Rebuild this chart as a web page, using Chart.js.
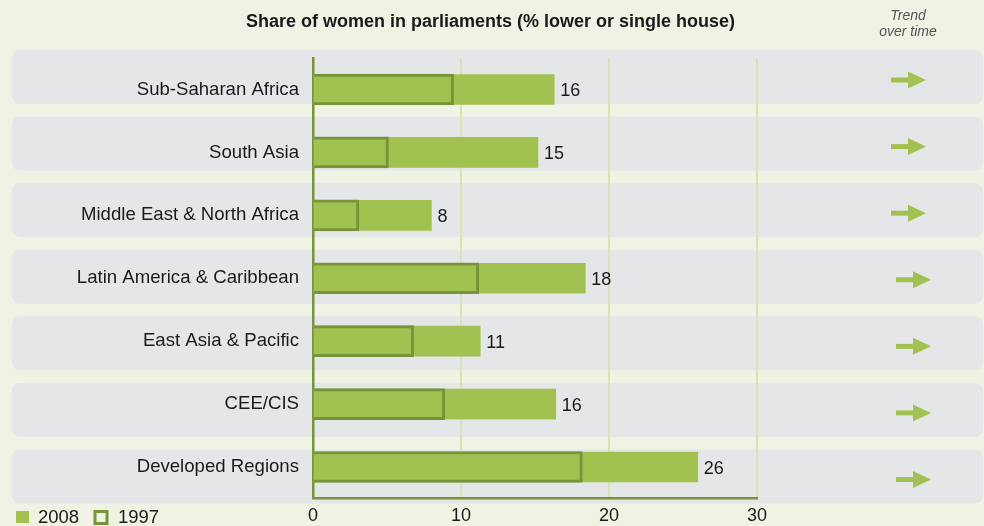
<!DOCTYPE html>
<html>
<head>
<meta charset="utf-8">
<script src="https://cdn.jsdelivr.net/npm/chart.js@4/dist/chart.umd.min.js"></script>
<style>
  html, body { margin: 0; padding: 0; background: #eff3e4; }
  #wrap { width: 984px; height: 526px; }
</style>
</head>
<body>
<div id="wrap"><canvas id="c" width="984" height="526"></canvas></div>
<script>
// ---- Data ----
const categories = [
  'Sub-Saharan Africa',
  'South Asia',
  'Middle East & North Africa',
  'Latin America & Caribbean',
  'East Asia & Pacific',
  'CEE/CIS',
  'Developed Regions'
];
const values2008 = [16.3, 15.2, 8.0, 18.4, 11.3, 16.4, 26.0];
const labels2008 = ['16', '15', '8', '18', '11', '16', '26'];
const values1997 = [9.5, 5.1, 3.1, 11.2, 6.8, 8.9, 18.2];
const xTicks = [0, 10, 20, 30];
const trend = ['right', 'right', 'right', 'right', 'right', 'right', 'right'];
const seriesNames = ['2008', '1997'];
const titleText = 'Share of women in parliaments (% lower or single house)';
const trendHeader = ['Trend', 'over time'];

// ---- Styles ----
const BG = '#eff3e4';
const BAND = '#e5e6e8';
const GREEN = '#a2c150';
const DARK = '#77943b';
const GRID = '#d7e5b3';
const TEXT = '#1a1a1a';
const FONT = '"Liberation Sans", Arial, Helvetica, sans-serif';

const decor = {
  id: 'decor',
  beforeDraw(chart) {
    const { ctx, chartArea } = chart;
    ctx.save();
    ctx.fillStyle = BG;
    ctx.fillRect(0, 0, chart.width, chart.height);
    // row bands
    const n = categories.length;
    const top = chartArea.top - 8;
    const bottom = chartArea.bottom + 5;
    const h = 54;
    const pitch = (bottom - top - h) / (n - 1);
    ctx.fillStyle = BAND;
    for (let i = 0; i < n; i++) {
      const y = top + i * pitch;
      ctx.beginPath();
      ctx.roundRect(12, y, chart.width - 13, h, 8);
      ctx.fill();
    }
    ctx.restore();
  },
  afterDraw(chart) {
    const { ctx, chartArea } = chart;
    const n = categories.length;
    ctx.save();
    // title
    ctx.fillStyle = TEXT;
    ctx.font = 'bold 18px ' + FONT;
    ctx.textAlign = 'center';
    ctx.textBaseline = 'middle';
    ctx.fillText(titleText, 490.5, 22);
    // trend header
    ctx.fillStyle = '#555555';
    ctx.font = 'italic 14px ' + FONT;
    ctx.fillText(trendHeader[0], 908, 16);
    ctx.fillText(trendHeader[1], 908, 32);

    // data labels for 2008
    const meta = chart.getDatasetMeta(1);
    ctx.fillStyle = TEXT;
    ctx.font = '18px ' + FONT;
    ctx.textAlign = 'left';
    meta.data.forEach((bar, i) => {
      ctx.fillText(labels2008[i], bar.x + 6, bar.y + 2);
    });

    // trend arrows
    const top = chartArea.top - 8;
    const bottom = chartArea.bottom + 5;
    const h = 54;
    const pitch = (bottom - top - h) / (n - 1);
    ctx.fillStyle = GREEN;
    trend.forEach((t, i) => {
      const cy = top + i * pitch + h / 2 + 3;
      const cx = i < 3 ? 908 : 913;
      ctx.save();
      ctx.translate(cx, cy);
      const ang = t === 'up' ? -Math.PI / 4 : t === 'down' ? Math.PI / 4 : 0;
      ctx.rotate(ang);
      ctx.fillRect(-17, -2.5, 19, 5);
      ctx.beginPath();
      ctx.moveTo(0, -8.5);
      ctx.lineTo(18, 0);
      ctx.lineTo(0, 8.5);
      ctx.closePath();
      ctx.fill();
      ctx.restore();
    });

    // legend
    const ly = 517;
    ctx.fillStyle = GREEN;
    ctx.fillRect(16, ly - 6, 13, 12);
    ctx.fillStyle = TEXT;
    ctx.font = '18.5px ' + FONT;
    ctx.textAlign = 'left';
    ctx.textBaseline = 'middle';
    ctx.fillText(seriesNames[0], 38, ly + 1);
    ctx.strokeStyle = DARK;
    ctx.lineWidth = 3;
    ctx.strokeRect(95, ly - 5.5, 12, 12);
    ctx.fillText(seriesNames[1], 118, ly + 1);
    ctx.restore();
  }
};

new Chart(document.getElementById('c'), {
  type: 'bar',
  data: {
    labels: categories,
    datasets: [
      {
        label: seriesNames[1],
        data: values1997,
        backgroundColor: GREEN,
        borderColor: DARK,
        borderWidth: 3,
        barThickness: 31,
        grouped: false
      },
      {
        label: seriesNames[0],
        data: values2008,
        backgroundColor: GREEN,
        borderWidth: 0,
        barThickness: 30,
        grouped: false
      }
    ]
  },
  options: {
    indexAxis: 'y',
    responsive: false,
    animation: false,
    devicePixelRatio: 1,
    layout: { padding: { top: 58, right: 227, left: 0, bottom: 0 } },
    plugins: {
      legend: { display: false },
      tooltip: { enabled: false }
    },
    scales: {
      x: {
        min: xTicks[0],
        max: xTicks[xTicks.length - 1],
        afterBuildTicks: (s) => { s.ticks = xTicks.map(v => ({ value: v })); },
        ticks: { color: TEXT, font: { family: FONT, size: 18 }, padding: 7, maxRotation: 0 },
        grid: {
          color: (c) => (c.tick && c.tick.value === 0 ? 'rgba(0,0,0,0)' : GRID),
          lineWidth: 2,
          drawTicks: false
        },
        border: { color: DARK, width: 2.5 },
        afterFit: (s) => { s.height = 27.5; }
      },
      y: {
        z: 1,
        ticks: { color: TEXT, font: { family: FONT, size: 18.6 }, padding: 14 },
        grid: { display: false, drawTicks: false },
        border: { color: DARK, width: 2.5 },
        afterFit: (s) => { s.width = 313; }
      }
    }
  },
  plugins: [decor]
});
</script>
</body>
</html>
